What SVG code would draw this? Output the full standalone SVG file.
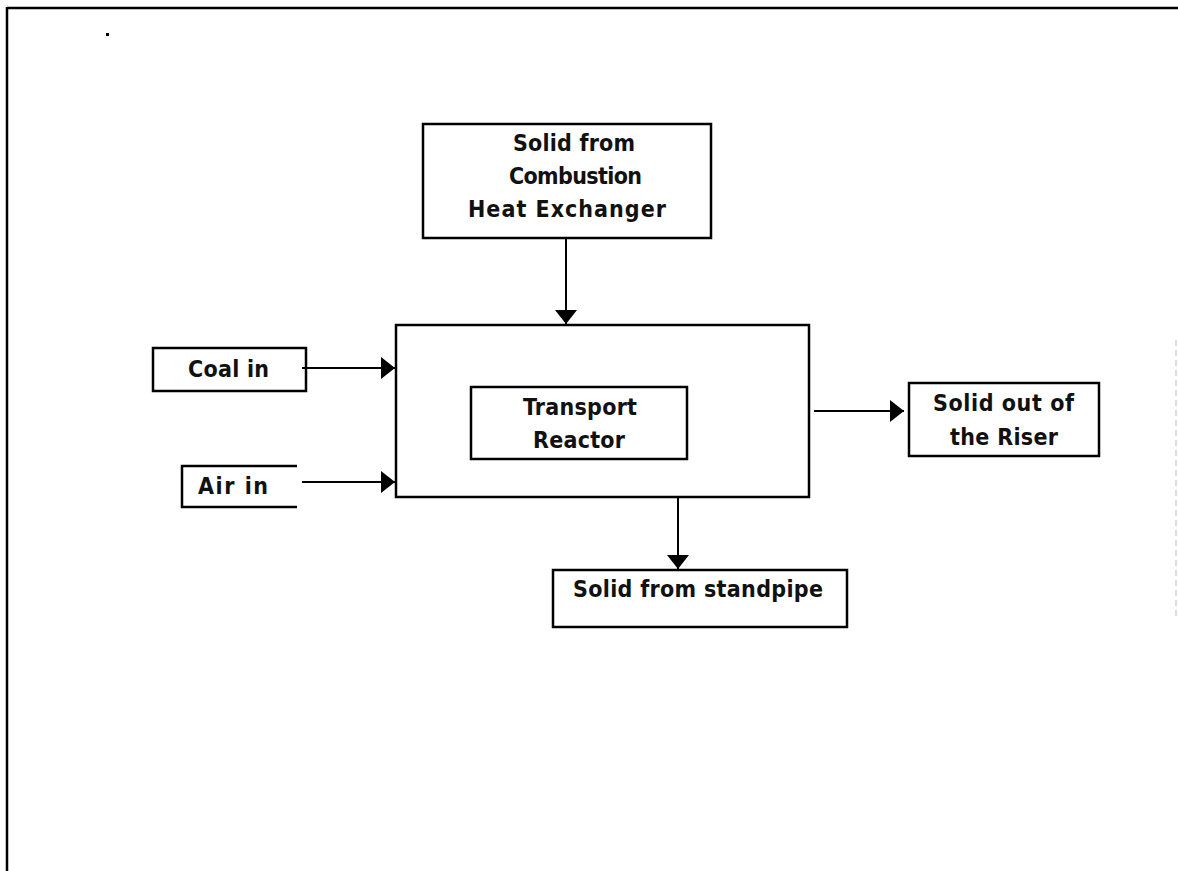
<svg xmlns="http://www.w3.org/2000/svg" width="1178" height="871" viewBox="0 0 1178 871">
<style>
.box{fill:none;stroke:#000;stroke-width:2.5}
.lbl{font-family:"DejaVu Sans Condensed","DejaVu Sans",sans-serif;font-weight:bold;font-size:23px;fill:#111}
.conn{stroke:#000;stroke-width:2;fill:none}
</style>
<defs>
<marker id="ah" markerUnits="userSpaceOnUse" markerWidth="24" markerHeight="24" refX="14" refY="11" orient="auto">
<path d="M0,0 L14,11 L0,22 Z" fill="#000"/>
</marker>
</defs>
<rect width="1178" height="871" fill="#fff"/>
<g id="frame">
<line x1="7" y1="8" x2="1178" y2="8" stroke="#000" stroke-width="2.5"/>
<line x1="7" y1="7" x2="7" y2="871" stroke="#000" stroke-width="2.5"/>
<line x1="1176" y1="340" x2="1176" y2="620" stroke="#bbb" stroke-width="1" stroke-dasharray="6 4"/>
<rect x="106" y="33" width="3" height="3" fill="#000"/>
</g>
<g id="heat-exchanger">
<rect class="box" x="423" y="124" width="288" height="114"/>
<text class="lbl" x="513" y="151" textLength="122" lengthAdjust="spacing">Solid from</text>
<text class="lbl" x="509" y="184" textLength="133" lengthAdjust="spacing">Combustion</text>
<text class="lbl" x="468" y="217" textLength="198" lengthAdjust="spacing">Heat Exchanger</text>
</g>
<g id="reactor">
<rect class="box" x="396" y="325" width="413" height="172"/>
<rect class="box" x="471" y="387" width="216" height="72"/>
<text class="lbl" x="523" y="415" textLength="114" lengthAdjust="spacing">Transport</text>
<text class="lbl" x="533" y="448" textLength="92" lengthAdjust="spacing">Reactor</text>
</g>
<g id="coal-in">
<rect class="box" x="153" y="348" width="153" height="43"/>
<text class="lbl" x="188" y="377" textLength="81" lengthAdjust="spacing">Coal in</text>
</g>
<g id="air-in">
<path class="box" d="M297,466 H182 V507 H297"/>
<text class="lbl" x="198" y="494" textLength="70" lengthAdjust="spacing">Air in</text>
</g>
<g id="riser-out">
<rect class="box" x="909" y="383" width="190" height="73"/>
<text class="lbl" x="933" y="411" textLength="141" lengthAdjust="spacing">Solid out of</text>
<text class="lbl" x="950" y="445" textLength="108" lengthAdjust="spacing">the Riser</text>
</g>
<g id="standpipe">
<rect class="box" x="553" y="570" width="294" height="57"/>
<text class="lbl" x="573" y="597" textLength="250" lengthAdjust="spacing">Solid from standpipe</text>
</g>
<g id="connectors">
<line class="conn" x1="566" y1="238" x2="566" y2="324" marker-end="url(#ah)"/>
<line class="conn" x1="302" y1="368" x2="395" y2="368" marker-end="url(#ah)"/>
<line class="conn" x1="302" y1="482" x2="395" y2="482" marker-end="url(#ah)"/>
<line class="conn" x1="814" y1="411" x2="904" y2="411" marker-end="url(#ah)"/>
<line class="conn" x1="678" y1="497" x2="678" y2="569" marker-end="url(#ah)"/>
</g>
</svg>
